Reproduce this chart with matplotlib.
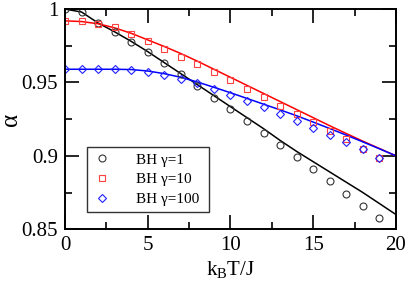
import matplotlib
matplotlib.use("Agg")
import matplotlib.pyplot as plt
from matplotlib.ticker import MultipleLocator

plt.rcParams["font.family"] = ["Liberation Serif", "DejaVu Serif"]
plt.rcParams["mathtext.fontset"] = "custom"
plt.rcParams["mathtext.rm"] = "Liberation Serif"

# markers (BH data)
t_pts = list(range(20))
bh_g1 = [1.0, 0.9977, 0.9902, 0.9845, 0.9777, 0.9705, 0.963, 0.9555, 0.9475, 0.9395,
         0.9316, 0.9236, 0.9157, 0.9077, 0.8993, 0.8909, 0.8827, 0.8743, 0.8659, 0.8573]
bh_g10 = [0.9918, 0.9918, 0.9898, 0.9875, 0.9827, 0.9782, 0.973, 0.9675, 0.9625, 0.9573,
          0.9514, 0.9457, 0.94, 0.9341, 0.9286, 0.923, 0.9168, 0.9112, 0.9048, 0.8986]
bh_g100 = [0.959, 0.959, 0.959, 0.959, 0.9582, 0.957, 0.9548, 0.9525, 0.9495, 0.9452,
           0.9414, 0.9375, 0.9332, 0.9286, 0.9239, 0.9191, 0.9141, 0.9093, 0.9045, 0.8986]

# solid curves
t_line = list(range(21))
line_g1 = [1.0, 0.998, 0.9905, 0.9845, 0.978, 0.971, 0.9635, 0.956, 0.9485, 0.941, 0.9335,
           0.926, 0.9185, 0.9105, 0.903, 0.896, 0.889, 0.882, 0.875, 0.8675, 0.860]
line_g10 = [0.992, 0.9915, 0.990, 0.9872, 0.9835, 0.979, 0.9745, 0.9697, 0.9645, 0.959, 0.9535,
            0.948, 0.9425, 0.937, 0.9315, 0.926, 0.9205, 0.9152, 0.910, 0.905, 0.900]
line_g100 = [0.959, 0.959, 0.959, 0.959, 0.9588, 0.9578, 0.956, 0.9535, 0.9503, 0.9467, 0.943,
             0.9391, 0.9352, 0.9313, 0.9273, 0.923, 0.9186, 0.9141, 0.9095, 0.9048, 0.900]

fig = plt.figure(figsize=(4.09, 2.84), dpi=100)
ax = fig.add_axes([0.159, 0.193, 0.809, 0.775])

ax.plot(t_line, line_g1, color="black", lw=1.1)
ax.plot(t_line, line_g10, color="red", lw=1.1)
ax.plot(t_line, line_g100, color="blue", lw=1.1)

ax.plot(t_pts, bh_g1, ls="none", marker="o", ms=5, mfc="none", mec="#333333", mew=0.8, label="BH \u03b3=1")
ax.plot(t_pts, bh_g10, ls="none", marker="s", ms=4.8, mfc="none", mec="#ff4040", mew=0.8, label="BH \u03b3=10")
ax.plot(t_pts, bh_g100, ls="none", marker="D", ms=4.2, mfc="none", mec="#2020ff", mew=0.8, label="BH \u03b3=100")

ax.set_xlim(0, 20)
ax.set_ylim(0.85, 1.0)
ax.xaxis.set_major_locator(MultipleLocator(5))
ax.xaxis.set_minor_locator(MultipleLocator(2.5))
ax.yaxis.set_minor_locator(MultipleLocator(0.025))
ax.set_yticks([0.85, 0.9, 0.95, 1.0])
ax.set_yticklabels(["0.85", "0.9", "0.95", "1"])
ax.tick_params(which="both", direction="in", top=True, right=True, labelsize=15, width=1.2, pad=5)
ax.tick_params(which="major", length=10)
ax.tick_params(which="minor", length=5)
for s in ax.spines.values():
    s.set_linewidth(1.4)

ax.set_xlabel(r"k$_\mathregular{B}$T/J", fontsize=15, labelpad=3)
ax.set_ylabel("\u03b1", fontsize=18, labelpad=0)

leg = ax.legend(loc="lower left", bbox_to_anchor=(0.066, 0.077, 0.369, 0.323), mode="expand",
                fontsize=11, frameon=True, fancybox=False, edgecolor="black",
                handlelength=1.2, handletextpad=1.6, borderpad=0.4, labelspacing=0.4,
                borderaxespad=0)
leg.get_frame().set_linewidth(1.0)

fig.savefig("out.png", dpi=100)
